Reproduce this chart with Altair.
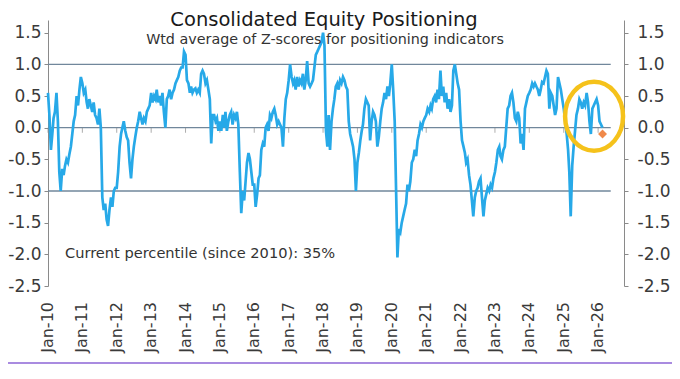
import altair as alt
import pandas as pd

# ---- data (half-monthly readings, 1st and 16th of each month) ----
vals_2010 = [0.55, 0.2, -0.35, -0.1, 0.15, 0.25, 0.55, 0.1, -0.7, -1.0, -0.65, -0.75,
             -0.6, -0.5, -0.55, -0.42, -0.3, -0.1, 0.1, 0.2, 0.5, 0.35, 0.6, 0.8]
vals_2011 = [0.7, 0.55, 0.6, 0.4, 0.3, 0.45, 0.35, 0.25, 0.4, 0.2, 0.15, 0.05,
             0.3, 0.0, -1.1, -1.3, -1.2, -1.45, -1.55, -1.3, -1.1, -1.25, -1.0, -0.95]
vals_2012 = [-0.95, -0.7, -0.3, -0.1, 0.0, 0.1, -0.05, -0.15, -0.2, -0.55, -0.8, -0.5,
             -0.3, -0.15, 0.0, 0.1, 0.25, 0.15, 0.05, 0.15, 0.1, 0.25, 0.3, 0.35]
vals_2013 = [0.55, 0.4, 0.5, 0.45, 0.6, 0.4, 0.5, 0.35, 0.55, 0.25, 0.0, 0.45,
             0.5, 0.6, 0.45, 0.55, 0.6, 0.7, 0.75, 0.8, 0.9, 0.95, 0.95, 1.2]
vals_2014 = [1.15, 0.75, 0.7, 0.55, 0.65, 0.55, 0.6, 0.62, 0.55, 0.6, 0.55, 0.85,
             0.9, 0.85, 0.7, 0.75, 0.6, 0.45, -0.25, 0.2, 0.2, 0.1, 0.15, -0.05]
vals_2015 = [0.1, -0.05, 0.2, 0.0, 0.25, -0.05, 0.1, 0.2, 0.25, 0.05, 0.2, 0.15,
             0.25, 0.05, -0.7, -1.35, -1.0, -1.15, -0.85, -0.55, -0.4, -0.5, -0.7, -0.9]
vals_2016 = [-0.9, -1.25, -1.05, -0.8, -0.75, -0.35, -0.25, -0.3, 0.0, 0.05, -0.05, 0.2,
             0.15, 0.25, 0.3, 0.2, 0.05, 0.1, 0.05, 0.0, -0.3, 0.15, 0.45, 0.55]
vals_2017 = [0.75, 1.0, 0.8, 0.7, 0.75, 0.6, 0.8, 0.65, 0.75, 0.7, 0.85, 0.6,
             0.75, 1.05, 0.7, 0.65, 0.7, 0.75, 0.95, 1.15, 1.2, 1.25, 1.3, 1.35]
vals_2018 = [1.5, 1.3, -0.05, -0.3, 0.2, -0.35, 0.1, 0.3, 0.45, 0.65, 0.7, 0.6,
             0.75, 0.7, 0.8, 0.75, 0.65, 0.6, 0.1, -0.1, -0.2, -0.3, -0.5, -1.0]
vals_2019 = [-0.55, -0.4, -0.2, -0.05, 0.05, 0.3, 0.45, 0.4, 0.35, -0.2, 0.1, 0.25,
             0.2, 0.1, -0.3, -0.15, 0.1, 0.3, 0.4, 0.55, 0.45, 0.65, 0.5, 0.7]
vals_2020 = [1.0, 0.6, 0.1, -1.0, -2.05, -1.6, -1.65, -1.5, -1.4, -1.3, -1.2, -0.9,
             -1.0, -0.85, -0.55, -0.5, -0.35, -0.45, -0.2, -0.1, 0.05, 0.0, 0.1, 0.15]
vals_2021 = [0.2, 0.3, 0.25, 0.35, 0.3, 0.45, 0.5, 0.4, 0.6, 0.45, 0.9, 0.5,
             0.65, 0.4, 0.55, 0.3, 0.45, 0.25, 0.35, 0.9, 1.0, 0.85, 0.7, 0.6]
vals_2022 = [0.1, -0.2, -0.3, -0.4, -0.55, -0.5, -0.75, -0.9, -1.15, -1.4, -1.1, -1.0,
             -0.95, -0.85, -0.8, -1.1, -1.4, -1.15, -1.05, -0.95, -1.0, -0.9, -0.95, -0.8]
vals_2023 = [-0.7, -0.55, -0.35, -0.3, -0.45, -0.5, -0.35, -0.3, 0.0, 0.3, 0.35, 0.5,
             0.55, 0.4, 0.15, 0.1, 0.25, 0.15, -0.25, -0.1, -0.35, 0.3, 0.4, 0.5]
vals_2024 = [0.55, 0.6, 0.7, 0.65, 0.7, 0.65, 0.6, 0.5, 0.6, 0.72, 0.7, 0.8,
             0.9, 0.85, 0.3, 0.55, 0.5, 0.35, 0.2, 0.3, 0.8, 0.7, 0.6, 0.45]
vals_2025 = [0.3, 0.1, -0.1, -0.35, -0.7, -1.4, -0.6, -0.3, -0.05, 0.2, 0.3, 0.45,
             0.4, 0.3, 0.4, 0.35, 0.55, 0.4, 0.1, -0.1, 0.3, 0.35, 0.4, 0.45]
vals_2026 = [0.35, 0.1, 0.05, 0.0]

series_years = list(range(2010, 2027))
series_values = [vals_2010, vals_2011, vals_2012, vals_2013, vals_2014, vals_2015,
                 vals_2016, vals_2017, vals_2018, vals_2019, vals_2020, vals_2021,
                 vals_2022, vals_2023, vals_2024, vals_2025, vals_2026]

latest_date = ["2026-02-17"]
latest_value = [-0.10]
highlight_date = ["2025-11-19"]
highlight_value = [0.18]

ref_levels = [1.0, -1.0, 0.0]
ref_start = "2010-01-01"
ref_end = "2026-05-15"

y_ticks = [1.5, 1.0, 0.5, 0.0, -0.5, -1.0, -1.5, -2.0, -2.5]
tick_years = list(range(2010, 2027))
x_labels = ["Jan-10", "Jan-11", "Jan-12", "Jan-13", "Jan-14", "Jan-15", "Jan-16", "Jan-17", "Jan-18",
            "Jan-19", "Jan-20", "Jan-21", "Jan-22", "Jan-23", "Jan-24", "Jan-25", "Jan-26"]

title_text = "Consolidated Equity Positioning"
subtitle_text = "Wtd average of Z-scores for positioning indicators"
note_text = "Current percentile (since 2010): 35%"

# ---- tables ----
rows = []
for yr, vals in zip(series_years, series_values):
    for i, v in enumerate(vals):
        rows.append({"date": f"{yr}-{i // 2 + 1:02d}-{1 if i % 2 == 0 else 16:02d}", "value": v})
line_df = pd.DataFrame(rows)
ref_df = pd.DataFrame({"start": [ref_start] * len(ref_levels), "end": [ref_end] * len(ref_levels), "y": ref_levels})
ticks_df = pd.DataFrame({"date": [f"{y}-01-01" for y in tick_years], "y": [0.0] * len(tick_years),
                         "label": x_labels})
latest_df = pd.DataFrame({"date": latest_date, "value": latest_value})
hl_df = pd.DataFrame({"date": highlight_date, "value": highlight_value})

FONT = "DejaVu Sans"
GRID = "#71879b"
AXIS = "#8a8a8a"
LABEL = "#3a3a3a"

xscale = alt.Scale(type="utc", domain=[alt.DateTime(year=2010, month=1, date=1, utc=True),
                                       alt.DateTime(year=2026, month=10, date=3, utc=True)])
yscale = alt.Scale(domain=[-2.5, 1.7], nice=False, zero=False)
label_expr = "datum.value < 0 ? '-' + format(-datum.value, '.1f') : format(datum.value, '.1f')"

y_left = alt.Axis(values=y_ticks, labelExpr=label_expr, grid=False, domainColor=AXIS, tickColor=AXIS,
                  tickSize=4, labelPadding=3, labelFont=FONT, labelFontSize=17, labelColor=LABEL,
                  labelOverlap=False, orient="left", title=None)
y_right = alt.Axis(values=y_ticks, labelExpr=label_expr, grid=False, orient="right", domainColor=AXIS,
                   tickColor=AXIS, tickSize=4, labelPadding=9, labelFont=FONT, labelFontSize=17,
                   labelColor=LABEL, labelOverlap=False, title=None)


def X(field):
    return alt.X(field, scale=xscale, axis=None)


def Y(field):
    return alt.Y(field, scale=yscale, axis=None)


line = alt.Chart(line_df).mark_line(color="#27A9E8", strokeWidth=2.7).encode(
    x=X("date:T"), y=alt.Y("value:Q", scale=yscale, axis=y_left))

right_axis = alt.Chart(line_df).mark_line(opacity=0).encode(
    x=X("date:T"), y=alt.Y("value:Q", scale=yscale, axis=y_right))

rules = alt.Chart(ref_df).mark_rule(color=GRID, strokeWidth=1.3).encode(
    x=X("start:T"), x2="end:T", y=Y("y:Q"))

year_ticks = alt.Chart(ticks_df).mark_tick(orient="vertical", size=5, thickness=1, color=AXIS, yOffset=2.5).encode(
    x=X("date:T"), y=Y("y:Q"))

year_labels = alt.Chart(ticks_df).mark_text(angle=270, align="right", baseline="middle", font=FONT,
                                            fontSize=16, color=LABEL).encode(
    x=X("date:T"), y=alt.value(282), text="label:N")

latest = alt.Chart(latest_df).mark_point(shape="diamond", filled=True, size=80, color="#F0894A", opacity=1).encode(
    x=X("date:T"), y=Y("value:Q"))

ellipse_path = ("M0.84,0C0.84,0.552,0.464,1,0,1C-0.464,1,-0.84,0.552,-0.84,0"
                "C-0.84,-0.552,-0.464,-1,0,-1C0.464,-1,0.84,-0.552,0.84,0Z")
ring = alt.Chart(hl_df).mark_point(shape=ellipse_path, filled=False, size=4761, strokeWidth=4.5,
                                   color="#F5C21B", opacity=1).encode(
    x=X("date:T"), y=Y("value:Q"))

title = alt.Chart(pd.DataFrame({"t": [title_text]})).mark_text(
    font=FONT, fontSize=19.5, color="#1a1a1a", align="center", baseline="alphabetic").encode(
    text="t:N", x=alt.value(276), y=alt.value(6))
subtitle = alt.Chart(pd.DataFrame({"t": [subtitle_text]})).mark_text(
    font=FONT, fontSize=14.3, color="#333333", align="center", baseline="alphabetic").encode(
    text="t:N", x=alt.value(277), y=alt.value(24))
note = alt.Chart(pd.DataFrame({"t": [note_text]})).mark_text(
    font=FONT, fontSize=14.6, color="#333333", align="left", baseline="alphabetic").encode(
    text="t:N", x=alt.value(17), y=alt.value(238))

bar = alt.Chart(pd.DataFrame({"a": [0]})).mark_rule(color="#A98BE0", strokeWidth=2).encode(
    x=alt.value(-40), x2=alt.value(624), y=alt.value(343))

chart = alt.layer(rules, year_ticks, line, right_axis, latest, ring, year_labels, title, subtitle, note,
                  bar).resolve_scale(y="independent").properties(
    width=576, height=266,
    autosize=alt.AutoSizeParams(type="none"),
    padding={"left": 40, "top": 12, "right": 48, "bottom": 85},
).configure_view(stroke="transparent")

chart.save("out.html", embed_options={"renderer": "svg", "actions": False})
